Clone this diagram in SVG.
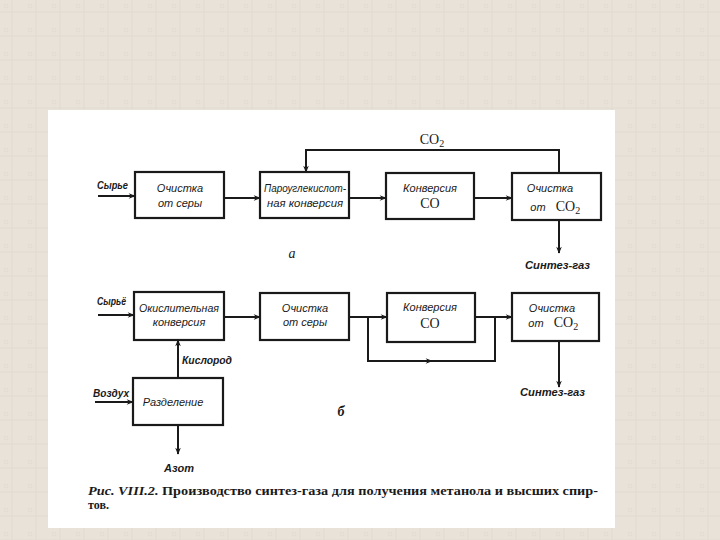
<svg xmlns="http://www.w3.org/2000/svg" width="720" height="540" viewBox="0 0 720 540">
<defs>
<pattern id="tex" width="24" height="24" patternUnits="userSpaceOnUse">
<rect width="24" height="24" fill="#e8e2d8"/>
<path d="M0 12h24M12 0v24" stroke="#e2dbd0" stroke-width="1"/>
<circle cx="6" cy="6" r="2" fill="none" stroke="#e0d9cd" stroke-width="0.8"/>
</pattern>
<marker id="ah" viewBox="0 0 10 10" refX="9" refY="5" markerWidth="9" markerHeight="7" markerUnits="userSpaceOnUse" orient="auto">
<path d="M0 1L10 5L0 9L3 5Z" fill="#1a1a1a"/>
</marker>
<style>
.box{fill:#ffffff;stroke:#1a1a1a;stroke-width:2.2}
.ln{fill:none;stroke:#1a1a1a;stroke-width:2}
.t{font-family:"Liberation Sans",Arial,sans-serif;font-style:italic;font-size:11px;fill:#1a1a1a;text-anchor:middle}
.s{font-family:"Liberation Serif","Times New Roman",serif;font-size:14px;fill:#1a1a1a;text-anchor:middle}
.lb{font-family:"Liberation Sans",Arial,sans-serif;font-style:italic;font-weight:bold;font-size:11px;fill:#1a1a1a}
.cap{font-family:"Liberation Serif","Times New Roman",serif;font-weight:bold;font-size:12px;fill:#1a1a1a}
</style>
</defs>
<rect width="720" height="540" fill="url(#tex)"/>
<rect x="48" y="110" width="567" height="418" fill="#ffffff"/>

<g id="connectors">
<line class="ln" x1="98" y1="196" x2="135" y2="196" marker-end="url(#ah)"/>
<line class="ln" x1="224" y1="198" x2="260" y2="198" marker-end="url(#ah)"/>
<line class="ln" x1="349" y1="198" x2="386" y2="198" marker-end="url(#ah)"/>
<line class="ln" x1="474" y1="198" x2="512" y2="198" marker-end="url(#ah)"/>
<polyline class="ln" points="559,173 559,150 306,150 306,172" marker-end="url(#ah)"/>
<line class="ln" x1="559" y1="220" x2="559" y2="253" marker-end="url(#ah)"/>

<line class="ln" x1="98" y1="315" x2="134" y2="315" marker-end="url(#ah)"/>
<line class="ln" x1="224" y1="317" x2="260" y2="317" marker-end="url(#ah)"/>
<line class="ln" x1="349" y1="317" x2="387" y2="317" marker-end="url(#ah)"/>
<line class="ln" x1="475" y1="317" x2="512" y2="317" marker-end="url(#ah)"/>
<polyline class="ln" points="368,317 368,361 495,361 495,317"/>
<line class="ln" x1="420" y1="361" x2="432" y2="361" marker-end="url(#ah)"/>
<line class="ln" x1="559" y1="341" x2="559" y2="387" marker-end="url(#ah)"/>
<line class="ln" x1="178" y1="378" x2="178" y2="340" marker-end="url(#ah)"/>
<line class="ln" x1="95" y1="402" x2="133" y2="402" marker-end="url(#ah)"/>
<line class="ln" x1="178" y1="425" x2="178" y2="454" marker-end="url(#ah)"/>
</g>

<g id="n1"><rect class="box" x="135" y="172" width="89" height="46"/>
<text class="t" x="180" y="192">Очистка</text><text class="t" x="180" y="207">от серы</text></g>
<g id="n2"><rect class="box" x="260" y="172" width="89" height="46"/>
<text class="t" x="305" y="192" textLength="82" lengthAdjust="spacingAndGlyphs">Пароуглекислот-</text><text class="t" x="305" y="207" textLength="76" lengthAdjust="spacingAndGlyphs">ная конверсия</text></g>
<g id="n3"><rect class="box" x="386" y="173" width="88" height="46"/>
<text class="t" x="430" y="192">Конверсия</text><text class="s" x="430" y="208">CO</text></g>
<g id="n4"><rect class="box" x="512" y="173" width="89" height="47"/>
<text class="t" x="550" y="192">Очистка</text><text class="t" x="538" y="211">от</text><text class="s" x="568" y="211">CO<tspan font-size="10" dy="3">2</tspan></text></g>

<g id="n5"><rect class="box" x="134" y="292" width="90" height="48"/>
<text class="t" x="179" y="312" textLength="80" lengthAdjust="spacingAndGlyphs">Окислительная</text><text class="t" x="179" y="326">конверсия</text></g>
<g id="n6"><rect class="box" x="260" y="293" width="89" height="47"/>
<text class="t" x="305" y="312">Очистка</text><text class="t" x="305" y="326">от  серы</text></g>
<g id="n7"><rect class="box" x="387" y="293" width="88" height="49"/>
<text class="t" x="430" y="311">Конверсия</text><text class="s" x="430" y="328">CO</text></g>
<g id="n8"><rect class="box" x="512" y="293" width="87" height="48"/>
<text class="t" x="552" y="312">Очистка</text><text class="t" x="536" y="327">от</text><text class="s" x="566" y="327">CO<tspan font-size="10" dy="3">2</tspan></text></g>
<g id="n9"><rect class="box" x="133" y="378" width="90" height="47"/>
<text class="t" x="173" y="406">Разделение</text></g>

<g id="labels">
<text class="lb" x="97" y="189" textLength="31" lengthAdjust="spacingAndGlyphs">Сырье</text>
<text class="s" x="432" y="144" font-size="13">CO<tspan font-size="10" dy="3">2</tspan></text>
<text class="lb" x="525" y="269" textLength="65" lengthAdjust="spacingAndGlyphs">Синтез-газ</text>
<text class="s" x="292" y="258" font-style="italic">а</text>
<text class="lb" x="97" y="305" textLength="29" lengthAdjust="spacingAndGlyphs">Сырьё</text>
<text class="lb" x="182" y="364" textLength="50" lengthAdjust="spacingAndGlyphs">Кислород</text>
<text class="lb" x="93" y="397" textLength="36" lengthAdjust="spacingAndGlyphs">Воздух</text>
<text class="lb" x="520" y="396" textLength="65" lengthAdjust="spacingAndGlyphs">Синтез-газ</text>
<text class="s" x="341" y="416" font-style="italic" font-weight="bold">б</text>
<text class="lb" x="164" y="472">Азот</text>
<text class="cap" x="88" y="495" textLength="510" lengthAdjust="spacingAndGlyphs"><tspan font-style="italic">Рис. VIII.2.</tspan> Производство синтез-газа для получения метанола и высших спир-</text>
<text class="cap" x="88" y="509">тов.</text>
</g>
</svg>
